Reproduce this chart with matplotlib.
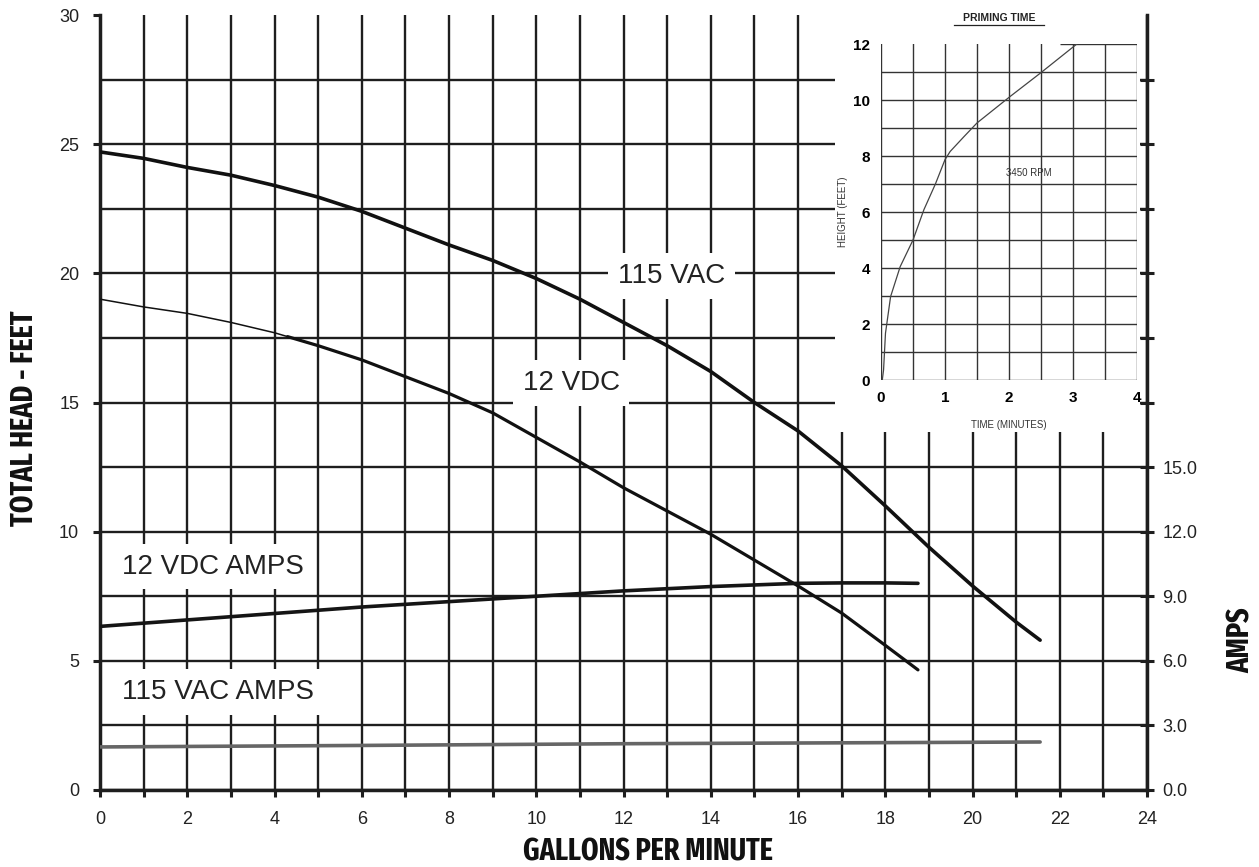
import numpy as np
import matplotlib.pyplot as plt
from matplotlib import font_manager
from matplotlib.patches import Rectangle

plt.rcParams['font.family'] = ['Liberation Sans', 'DejaVu Sans']

# head curves (feet) vs flow (gpm)
vac_gpm = [0, 1, 2, 3, 4, 5, 6, 7, 8, 9, 10, 11, 12, 13, 14, 15, 16, 17, 18, 19, 20, 21, 21.55]
vac_head = [24.7, 24.45, 24.1, 23.8, 23.4, 22.95, 22.4, 21.75, 21.1, 20.5, 19.8, 19.0, 18.1,
            17.2, 16.2, 15.0, 13.9, 12.55, 11.0, 9.4, 7.9, 6.5, 5.8]
dc_gpm = [0, 1, 2, 3, 4, 4.3, 5, 6, 7, 8, 9, 10, 11, 12, 13, 14, 15, 16, 17, 18, 18.75]
dc_head = [19.0, 18.7, 18.45, 18.1, 17.7, 17.55, 17.2, 16.65, 16.0, 15.35, 14.6, 13.65, 12.7,
           11.7, 10.8, 9.9, 8.9, 7.9, 6.85, 5.6, 4.65]

# current draw (amps)
dc_amp_gpm = [0, 2, 4, 6, 8, 10, 12, 14, 16, 17, 18, 18.75]
dc_amps = [7.6, 7.9, 8.2, 8.5, 8.75, 9.0, 9.25, 9.45, 9.6, 9.62, 9.62, 9.6]
ac_amp_gpm = [0, 6, 12, 18, 21.55]
ac_amps = [2.0, 2.07, 2.15, 2.2, 2.23]

# priming time inset
prime_min = [0.02, 0.04, 0.07, 0.15, 0.3, 0.5, 0.67, 0.85, 1.0, 1.08, 1.3, 1.5, 2.02, 2.49, 3.06]
prime_ft = [0.0, 0.36, 1.67, 2.98, 4.05, 5.0, 6.08, 7.0, 7.87, 8.16, 8.7, 9.18, 10.13, 10.96, 12.0]


def narrow_bold():
    # look for a condensed bold face among the installed fonts
    best = None
    for f in font_manager.fontManager.ttflist:
        w = f.weight if isinstance(f.weight, int) else 700 if 'bold' in str(f.weight) else 400
        if w < 600 or 'italic' in f.style or 'oblique' in f.style:
            continue
        name = (f.name + ' ' + f.fname).lower()
        score = 0
        if 'extracondensed' in name.replace(' ', '') or 'extra condensed' in name:
            score = 3
        elif 'narrow' in name or 'condensed' in name or f.stretch == 'condensed':
            score = 2
        if score and w > 700:
            score -= 0.5
        if score and (best is None or score > best[0]):
            best = (score, f.fname)
    if best:
        return dict(fontproperties=font_manager.FontProperties(fname=best[1], size=22))
    return dict(family='DejaVu Sans', fontweight='bold', fontstretch='condensed', fontsize=19)


NB = narrow_bold()

W, H = 1259, 867
fig = plt.figure(figsize=(W / 100, H / 100), dpi=100)
ax = fig.add_axes([100 / W, 1 - 790 / H, 1047 / W, 775 / H])

ink = '#1e1e1e'
ax.set_xlim(0, 24)
ax.set_ylim(0, 30)
ax.set_xticks(np.arange(0, 25, 2))
ax.set_xticks(np.arange(0, 25, 1), minor=True)
ax.set_yticks(np.arange(0, 31, 5))
ax.set_yticks(np.arange(0, 30, 2.5), minor=True)
ax.grid(True, which='both', color=ink, lw=1.7)
ax.get_ygridlines()[-1].set_visible(False)
for s in ['top', 'right']:
    ax.spines[s].set_visible(False)
for s in ['left', 'bottom']:
    ax.spines[s].set_linewidth(2.5)
    ax.spines[s].set_color(ink)
ax.tick_params(which='both', direction='out', length=5, width=2.2, color=ink,
               labelsize=13, labelcolor='#222', pad=10)
ax.tick_params(axis='y', which='minor', length=0)

ax.plot(vac_gpm, vac_head, color='#111', lw=2.6, solid_capstyle='round', zorder=3)
ax.plot(dc_gpm[:6], dc_head[:6], color='#111', lw=1.1, zorder=3)
ax.plot(dc_gpm[5:], dc_head[5:], color='#111', lw=2.3, solid_capstyle='round', zorder=3)

box = dict(boxstyle='square,pad=0.35', fc='white', ec='none')
ax.text(13.1, 19.9, '115 VAC', fontsize=20, ha='center', va='center', color='#222', bbox=box, zorder=4)
ax.text(10.8, 15.75, '12 VDC', fontsize=20, ha='center', va='center', color='#222', bbox=box, zorder=4)
ax.text(0.5, 8.65, '12 VDC AMPS', fontsize=20, ha='left', va='center', color='#222', bbox=box, zorder=4)
ax.text(0.5, 3.8, '115 VAC AMPS', fontsize=20, ha='left', va='center', color='#222', bbox=box, zorder=4)

ax2 = ax.twinx()
ax2.set_ylim(0, 36)
ax2.set_yticks(np.arange(0, 34, 3))
ax2.set_yticklabels(['%.1f' % v if v <= 15 else '' for v in np.arange(0, 34, 3)])
for s in ['top', 'left', 'bottom']:
    ax2.spines[s].set_visible(False)
ax2.spines['right'].set_linewidth(2.5)
ax2.spines['right'].set_color(ink)
ax2.tick_params(direction='inout', length=10, width=2.2, color=ink, labelsize=13,
                labelcolor='#222', pad=6)
ax2.plot(dc_amp_gpm, dc_amps, color='#151515', lw=2.6, solid_capstyle='round')
ax2.plot(ac_amp_gpm, ac_amps, color='#666', lw=2.6, solid_capstyle='round')

fig.text(25 / W, 1 - 418 / H, 'TOTAL HEAD - FEET', rotation=90, ha='center', va='center',
         color='#111', **NB)
fig.text(648 / W, 1 - 852 / H, 'GALLONS PER MINUTE', ha='center', va='center',
         color='#111', **NB)
fig.text(1242 / W, 1 - 640 / H, 'AMPS', rotation=90, ha='center', va='center',
         color='#111', **NB)

# white panel for the inset
fig.patches.append(Rectangle((835 / W, 1 - 432 / H), 305 / W, 432 / H, transform=fig.transFigure,
                             fc='white', ec='none', zorder=1))

ai = fig.add_axes([881 / W, 1 - 380 / H, 256 / W, 336 / H], zorder=2)
ai.patch.set_alpha(0)
ai.set_xlim(0, 4)
ai.set_ylim(0, 12)
ai.set_xticks(np.arange(0, 5, 1))
ai.set_xticks(np.arange(0, 4.1, 0.5), minor=True)
ai.set_yticks(np.arange(0, 13, 2))
ai.set_yticks(np.arange(0, 12.1, 1), minor=True)
ai.grid(True, which='both', color='#333', lw=1.0)
ai.get_ygridlines()[-1].set_visible(False)
ai.hlines(12, 2.8, 4, color='#333', lw=1.0)
for s in ai.spines.values():
    s.set_visible(False)
ai.tick_params(which='both', length=0, labelsize=11, pad=8)
for lab in ai.get_xticklabels() + ai.get_yticklabels():
    lab.set_fontweight('bold')
ai.plot(prime_min, prime_ft, color='#444', lw=0.9)
ai.text(2.31, 7.39, '3450 RPM', fontsize=7, ha='center', va='center', color='#333')
ai.text(-0.15, 0.5, 'HEIGHT (FEET)', transform=ai.transAxes, rotation=90, fontsize=7,
        ha='center', va='center', color='#333')
ai.text(0.5, -0.135, 'TIME (MINUTES)', transform=ai.transAxes, fontsize=7,
        ha='center', va='center', color='#333')
ai.text(0.46, 1.078, 'PRIMING TIME', transform=ai.transAxes, fontsize=7.5, fontweight='bold',
        ha='center', va='center', color='#222')
ai.plot([0.285, 0.637], [1.058, 1.058], transform=ai.transAxes, color='#222', lw=0.9, clip_on=False)

fig.savefig('out.png', dpi=100)
